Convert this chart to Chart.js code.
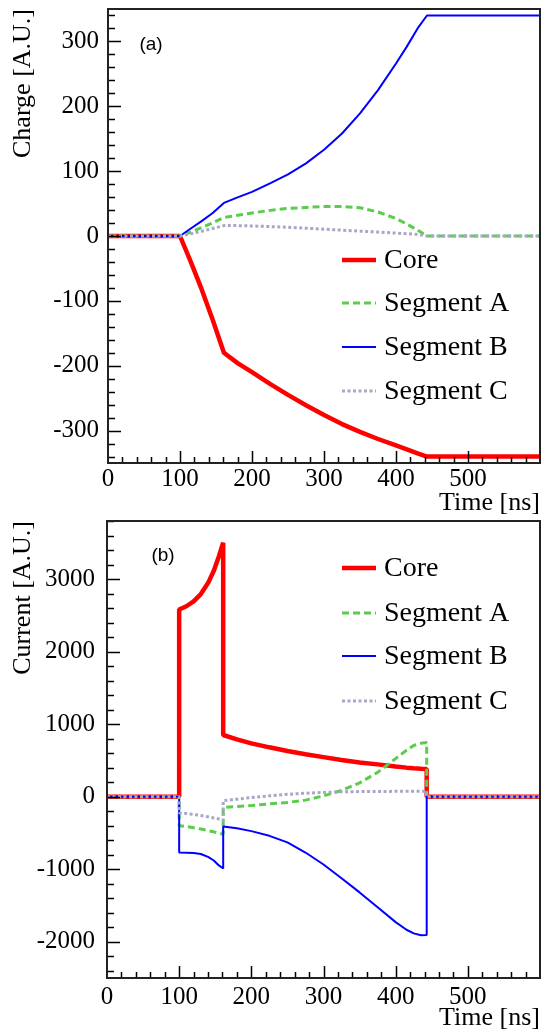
<!DOCTYPE html>
<html>
<head>
<meta charset="utf-8">
<script src="https://cdn.jsdelivr.net/npm/chart.js@4.4.1/dist/chart.umd.min.js"></script>
<style>
  html, body { margin: 0; padding: 0; background: #fff; }
  canvas { display: block; }
</style>
</head>
<body>
<canvas id="charge" width="542" height="516"></canvas>
<canvas id="current" width="542" height="516"></canvas>
<script>
const seriesNames = ["Core", "Segment A", "Segment B", "Segment C"];

// (a) charge, A.U.
const chargeTime = [0, 100, 115, 130, 145, 161, 180, 200, 225, 250, 275, 300, 325, 350, 375, 400, 415, 430, 443, 600];
const chargeCore = [0, 0, -40, -82, -128, -180, -196, -210, -228, -245, -261, -276, -290, -302, -313, -323, -329, -335, -340, -340];
const chargeSegA = [0, 0, 6, 13, 20, 28.5, 32, 35.5, 39.5, 42.5, 44, 45.5, 45.5, 43.5, 37, 27, 18.5, 9, 0, 0];
const chargeSegB = [0, 0, 11.5, 23, 35, 51, 59.5, 68, 81, 95, 112, 133, 158, 189, 225, 266, 292, 320, 340, 340];
const chargeSegC = [0, 0, 3.5, 7.3, 11.5, 16, 16, 15.5, 14.5, 13.5, 12, 10.5, 9, 7.5, 6, 4.5, 3.5, 2.5, 0, 0];
const chargeTicks = [-300, -200, -100, 0, 100, 200, 300];

// (b) current, A.U.  (repeated times = steps)
const currentTime = [0, 100, 100, 110, 120, 130, 140, 148, 155, 161, 161, 180, 200, 225, 250, 275, 300, 325, 350, 375, 400, 415, 425, 435, 443, 443, 600];
const currentCore = [0, 0, 2580, 2625, 2693, 2793, 2944, 3115, 3310, 3500, 850, 790, 735, 680, 630, 585, 545, 505, 470, 445, 415, 400, 392, 385, 380, 0, 0];
const currentSegA = [0, 0, -400, -412, -428, -446, -468, -485, -502, -520, -150, -135, -122, -100, -80, -48, 10, 85, 190, 335, 525, 640, 705, 735, 745, 0, 0];
const currentSegB = [0, 0, -770, -772, -778, -790, -830, -880, -948, -990, -410, -435, -475, -540, -630, -770, -935, -1125, -1320, -1525, -1730, -1835, -1885, -1910, -1908, 0, 0];
const currentSegC = [0, 0, -225, -233, -245, -260, -278, -293, -308, -325, -55, -35, -12, 12, 32, 47, 58, 66, 70, 72, 73, 73, 73, 73, 73, 0, 0];
const currentTicks = [-2000, -1000, 0, 1000, 2000, 3000];

const serif = "'Liberation Serif', 'Times New Roman', serif";
const styles = [
  { color: "#ff0000", width: 4.5, dash: [] },
  { color: "#5ccc4c", width: 3, dash: [7, 4] },
  { color: "#0000ff", width: 2, dash: [] },
  { color: "#a8a8c6", width: 3, dash: [3, 2.5] }
];

// ROOT-like frame, inward major/minor ticks, y labels, tag and legend
const rootFrame = {
  id: "rootFrame",
  afterDraw(chart, args, o) {
    const { ctx, chartArea: a, scales: { x, y } } = chart;
    ctx.save();
    ctx.strokeStyle = "#000";
    ctx.lineWidth = 1.5;
    ctx.beginPath();
    for (let k = Math.ceil(y.min / o.yMinor); k * o.yMinor <= y.max; k++) {
      const v = k * o.yMinor, py = Math.round(y.getPixelForValue(v)) + 0.5;
      const len = v % o.yMajor === 0 ? 13 : 7;
      ctx.moveTo(a.left, py); ctx.lineTo(a.left + len, py);
    }
    for (let k = 1; k * 20 < x.max; k++) {
      const v = k * 20, px = Math.round(x.getPixelForValue(v)) + 0.5;
      const len = v % 100 === 0 ? 12 : 6;
      ctx.moveTo(px, a.bottom); ctx.lineTo(px, a.bottom - len);
    }
    ctx.stroke();
    ctx.strokeStyle = "#222";
    ctx.lineWidth = 2;
    ctx.strokeRect(a.left, a.top, a.right - a.left, a.bottom - a.top);

    ctx.fillStyle = "#000";
    ctx.font = "25px " + serif;
    ctx.textAlign = "right";
    ctx.textBaseline = "middle";
    o.yLabels.forEach(v => ctx.fillText(String(v), a.left - o.yPad, y.getPixelForValue(v)));

    ctx.font = "19px 'Liberation Sans', Arial, sans-serif";
    ctx.textAlign = "center";
    ctx.fillText(o.tag, o.tagX, o.tagY);

    chart.data.datasets.forEach((ds, i) => {
      const ly = o.legendY[i];
      ctx.beginPath();
      ctx.strokeStyle = ds.borderColor;
      ctx.lineWidth = ds.borderWidth;
      ctx.setLineDash(ds.borderDash);
      ctx.moveTo(342, ly); ctx.lineTo(376, ly);
      ctx.stroke();
      ctx.setLineDash([]);
      ctx.fillStyle = "#000";
      ctx.font = "28px " + serif;
      ctx.textAlign = "left";
      ctx.fillText(ds.label, 384, ly + 1);
    });
    ctx.restore();
  }
};

function makeChart(id, time, values, cfg) {
  return new Chart(document.getElementById(id), {
    type: "line",
    data: {
      datasets: values.map((vals, i) => ({
        label: seriesNames[i],
        data: time.map((t, k) => ({ x: t, y: vals[k] })),
        borderColor: styles[i].color,
        borderWidth: styles[i].width,
        borderDash: styles[i].dash,
        borderJoinStyle: "bevel",
        pointRadius: 0,
        tension: 0,
        fill: false,
        order: 4 - i
      }))
    },
    options: {
      responsive: false,
      animation: false,
      devicePixelRatio: 1,
      layout: { padding: { top: cfg.top, right: 2, left: 0, bottom: 0 } },
      plugins: {
        legend: { display: false },
        tooltip: { enabled: false },
        rootFrame: cfg.frame
      },
      scales: {
        x: {
          type: "linear",
          min: 0,
          max: 600,
          afterFit: s => { s.height = cfg.xHeight; },
          grid: { display: false, drawTicks: false },
          border: { display: false },
          ticks: {
            stepSize: 100,
            includeBounds: false,
            autoSkip: false,
            maxRotation: 0,
            padding: cfg.xPad,
            color: "#000",
            font: { family: serif, size: 25, lineHeight: 1.2 },
            callback: v => (v % 100 === 0 && v < 600 ? String(v) : null)
          },
          title: {
            display: true,
            text: "Time [ns]",
            align: "end",
            color: "#000",
            font: { family: serif, size: 26, lineHeight: 1 },
            padding: { top: 0, bottom: cfg.xTitlePad }
          }
        },
        y: {
          type: "linear",
          min: cfg.yMin,
          max: cfg.yMax,
          afterFit: s => { s.width = cfg.yWidth; },
          grid: { display: false, drawTicks: false },
          border: { display: false },
          ticks: { display: false },
          title: {
            display: true,
            text: cfg.yTitle,
            align: "end",
            color: "#000",
            font: { family: serif, size: 26, lineHeight: 1 },
            padding: { top: 10.5, bottom: 0 }
          }
        }
      }
    },
    plugins: [rootFrame]
  });
}

makeChart("charge", chargeTime, [chargeCore, chargeSegA, chargeSegB, chargeSegC], {
  top: 9, xHeight: 53, yWidth: 108, xPad: 1, xTitlePad: 0,
  yMin: -350, yMax: 350, yTitle: "Charge [A.U.]",
  frame: { yMinor: 20, yMajor: 100, yLabels: chargeTicks, yPad: 9, tag: "(a)", tagX: 151, tagY: 45, legendY: [260, 303, 347, 391] }
});

makeChart("current", currentTime, [currentCore, currentSegA, currentSegB, currentSegC], {
  top: 5, xHeight: 54, yWidth: 107, xPad: 4, xTitlePad: 1,
  yMin: -2500, yMax: 3800, yTitle: "Current [A.U.]",
  frame: { yMinor: 200, yMajor: 1000, yLabels: currentTicks, yPad: 12, tag: "(b)", tagX: 163, tagY: 40, legendY: [52, 97, 140, 185] }
});
</script>
</body>
</html>
